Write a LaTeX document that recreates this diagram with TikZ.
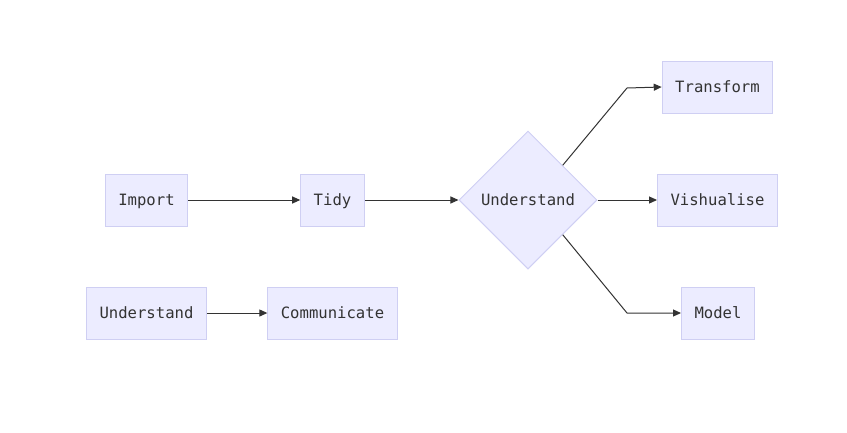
\documentclass[tikz,border=0pt]{standalone}
\usepackage{fontspec}
\setmonofont{DejaVu Sans Mono}
\usetikzlibrary{shapes.geometric,arrows.meta}
\definecolor{boxfill}{HTML}{ECECFF}
\definecolor{boxline}{HTML}{CFCFF3}
\definecolor{edgeline}{HTML}{333333}
\tikzset{
  procbox/.style={draw=boxline, fill=boxfill, line width=1pt, inner xsep=13pt, inner ysep=0pt,
    minimum height=52pt, text height=12.4pt, text depth=1pt,
    font=\ttfamily\fontsize{15.6}{18}\selectfont, text=edgeline},
  decbox/.style={diamond, draw=boxline, fill=boxfill, line width=1pt, inner sep=0pt,
    minimum width=138pt, minimum height=138pt, text height=12.4pt, text depth=1pt,
    font=\ttfamily\fontsize{15.6}{18}\selectfont, text=edgeline},
  flow/.style={draw=edgeline, line width=1pt, -{Triangle[length=8pt,width=7pt]}}
}
\begin{document}
\begin{tikzpicture}[x=1pt,y=-1pt]
\useasboundingbox (0,0) rectangle (847,432);
\fill[white] (0,0) rectangle (847,432);
\node[procbox] (imp) at (146.5,200) {Import};
\node[procbox] (tidy) at (332.5,200) {Tidy};
\node[decbox] (und) at (528,200) {Understand};
\node[procbox] (tra) at (717.5,87) {Transform};
\node[procbox] (vis) at (717.5,200) {Vishualise};
\node[procbox] (mod) at (718,313) {Model};
\node[procbox] (und2) at (146.5,313) {Understand};
\node[procbox] (com) at (332.5,313) {Communicate};
\coordinate (bt) at (627,88);
\coordinate (bm) at (627,313);
\draw[flow] (imp) -- (tidy);
\draw[flow] (tidy) -- (und);
\draw[flow] (und.north east) -- (bt) -- (tra.west);
\draw[flow] (und) -- (vis);
\draw[flow] (und.south east) -- (bm) -- (mod.west);
\draw[flow] (und2) -- (com);
\end{tikzpicture}
\end{document}
